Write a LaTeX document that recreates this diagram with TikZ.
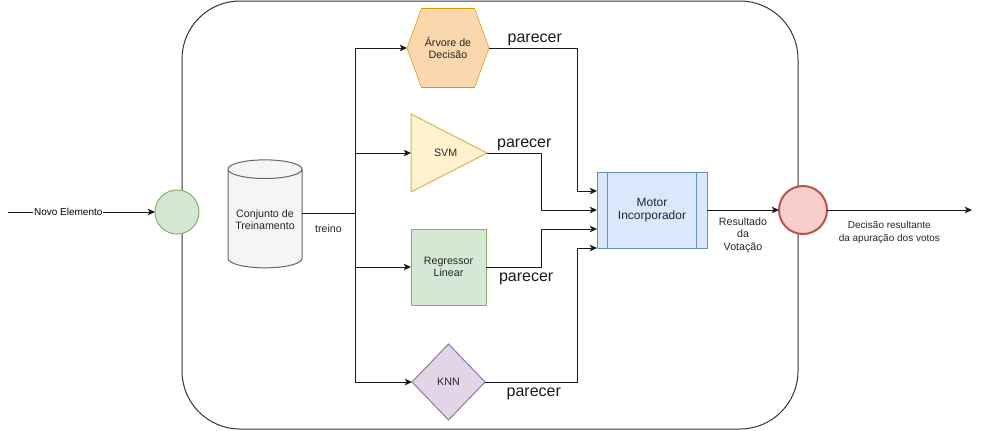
\documentclass[tikz,border=0pt]{standalone}
\usepackage{fontspec}
\setmainfont{Liberation Sans}
\usetikzlibrary{shapes.geometric,arrows.meta,calc,backgrounds}

\definecolor{linha}{HTML}{1A1A1A}
\definecolor{verdeF}{HTML}{D5E8D4}  \definecolor{verdeB}{HTML}{82B366}
\definecolor{laranjaF}{HTML}{FAD7AC} \definecolor{laranjaB}{HTML}{D79B00}
\definecolor{amareloF}{HTML}{FFF2CC} \definecolor{amareloB}{HTML}{D6B656}
\definecolor{roxoF}{HTML}{E1D5E7}   \definecolor{roxoB}{HTML}{9673A6}
\definecolor{azulF}{HTML}{DAE8FC}   \definecolor{azulB}{HTML}{6C8EBF}
\definecolor{vermF}{HTML}{F8CECC}   \definecolor{vermB}{HTML}{B85450}
\definecolor{cinzaF}{HTML}{F5F5F5}  \definecolor{cinzaB}{HTML}{666666}

\begin{document}
\begin{tikzpicture}[
		x=0.75pt, y=-0.75pt,
		line width=0.75pt,
		bloco/.style={draw, outer sep=0pt, inner sep=1pt, align=center, text=black!85, font=\fontsize{8}{9}\selectfont},
		circulo/.style={bloco, circle, minimum size=33pt},
		rotulo/.style={align=center, text=black!85, font=\fontsize{8}{9.4}\selectfont},
		parecer/.style={text=black!90, font=\fontsize{12}{14}\selectfont, inner sep=1pt},
		seta/.style={draw=linha, -{Stealth[length=5.5pt,width=5pt,inset=1.5pt]}}
	]
	\useasboundingbox (0,0) rectangle (981,430);

	% Moldura do comite
	\draw[black!80, rounded corners=43.5pt] (182,1) rectangle (798,429);

	% Entrada e base de treino
	\node[circulo, fill=verdeF, draw=verdeB] (novo) at (177,212) {};
	\node[bloco, cylinder, shape border rotate=90, aspect=0.3, minimum height=81pt, minimum width=55.5pt, fill=cinzaF, draw=cinzaB] (banco) at (265,220) {Conjunto de\\Treinamento};
	\coordinate (inicio) at (8,212);
	\coordinate (ramo) at (355,213);

	% Classificadores
	\node[bloco, minimum width=61.5pt, minimum height=59.25pt, draw=none] (arvore) at (448,48) {Árvore de\\Decisão};
	\node[bloco, isosceles triangle, isosceles triangle stretches, minimum width=58.5pt, minimum height=57pt, fill=amareloF, draw=amareloB, anchor=west] (svm) at (411,153) {\hspace*{10pt}SVM};
	\node[bloco, minimum width=56.25pt, minimum height=57pt, fill=verdeF, draw=verdeB] (regressor) at (448.5,267) {Regressor\\Linear};
	\node[bloco, diamond, minimum width=54.75pt, minimum height=57pt, fill=roxoF, draw=roxoB] (knn) at (448.5,382) {KNN};
	\begin{scope}[on background layer]
		\draw[fill=laranjaF, draw=laranjaB] (arvore.west) -- ($(arvore.north west)+(14.5,0)$) -- ($(arvore.north east)+(-14.5,0)$) -- (arvore.east) -- ($(arvore.south east)+(-14.5,0)$) -- ($(arvore.south west)+(14.5,0)$) -- cycle;
	\end{scope}

	% Motor de votacao e saida
	\node[bloco, minimum width=82.5pt, minimum height=57pt, fill=azulF, draw=azulB, font=\fontsize{9}{9.8}\selectfont] (motor) at (652,210) {Motor\\Incorporador};
	\draw[azulB] ($(motor.north west)+(10,0)$) -- ($(motor.south west)+(10,0)$);
	\draw[azulB] ($(motor.north east)+(-11,0)$) -- ($(motor.south east)+(-11,0)$);
	\node[circulo, minimum size=36pt, fill=vermF, draw=vermB, line width=1.5pt] (resultado) at (803,210) {};
	\coordinate (fim) at (972,210);

	% Ligacoes
	\draw[seta] (inicio) -- node[pos=0.41, fill=white, inner sep=0.5pt, font=\fontsize{7.5}{9}\selectfont] {Novo Elemento} (novo.west);
	\draw[linha] (banco.east |- ramo) -- node[rotulo, below=5pt] {treino} (ramo);
	\draw[seta] (ramo) |- (arvore.west);
	\draw[seta] (ramo) |- (svm.west);
	\draw[seta] (ramo) |- (regressor.west);
	\draw[seta] (ramo) |- (knn.west);

	\draw[seta] (arvore.east) -- node[parecer, pos=0.52, above] {parecer} ++(88,0) |- ($(motor.west)+(0,-19)$);
	\draw[seta] (svm.east) -- node[parecer, pos=0.69, above] {parecer} ++(54,0) |- (motor.west);
	\draw[seta] (regressor.east) -- node[parecer, pos=0.73, below=3pt] {parecer} ++(55,0) |- ($(motor.west)+(0,19)$);
	\draw[seta] (knn.east) -- node[parecer, pos=0.53, below=3pt] {parecer} ++(92,0) |- ($(motor.west)+(0,38)$);

	\draw[seta] (motor.east) -- node[rotulo, below=2pt] {Resultado\\da\\Votação} (resultado.west);
	\draw[seta] (resultado.east) -- node[rotulo, pos=0.43, below=5pt, font=\fontsize{7.5}{9.6}\selectfont] {Decisão resultante\\da apuração dos votos} (fim);

\end{tikzpicture}
\end{document}
